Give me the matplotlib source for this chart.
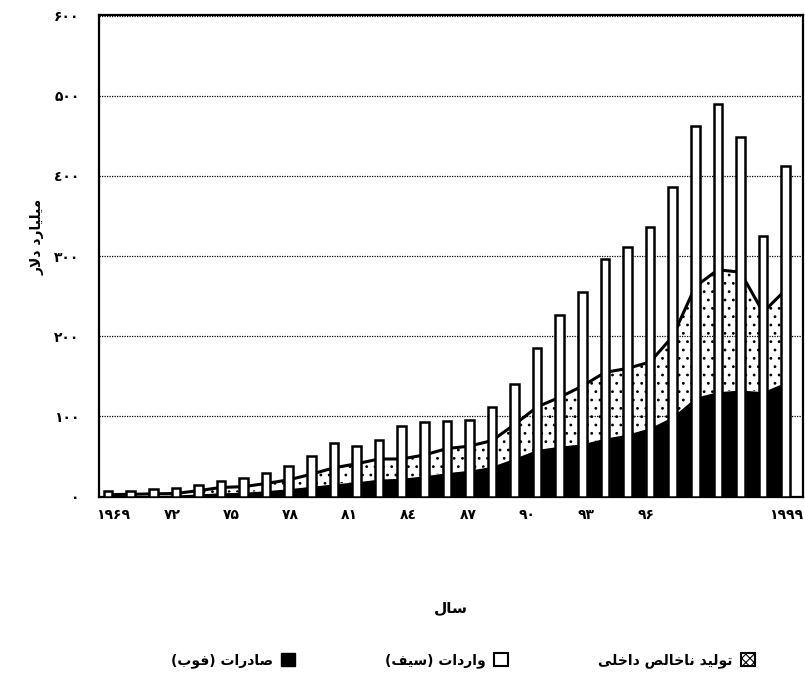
import numpy as np
import matplotlib.pyplot as plt
from matplotlib.patches import Patch

plt.rcParams['font.family'] = ['DejaVu Sans']
plt.rcParams['hatch.linewidth'] = 0.8

# data (billion dollars)
years = np.arange(1969, 2000)
gdp = [7.5, 7.5, 10, 11, 15, 19, 23, 29, 38, 51, 67, 63, 71, 88, 93, 94, 96,
       112, 140, 185, 226, 255, 297, 311, 336, 386, 462, 490, 449, 325, 412]
exports = [1, 1.2, 1.5, 2, 3.5, 5, 5.5, 7.5, 10, 13, 16, 18.5, 22, 23, 26, 30,
           33, 38, 48, 59, 63, 66, 73, 78, 86, 100, 124, 131, 133, 131, 143]
imports = [1.5, 1.8, 2, 2, 4, 6.5, 7, 9, 11, 15, 20, 22.5, 25, 24, 26, 30, 30,
           32, 42, 53, 61, 72, 82, 82, 82, 100, 138, 152, 147, 99, 115]

x_labels = ['۱۹۶۹', '۷۲', '۷۵', '۷۸', '۸۱', '۸٤', '۸۷', '۹۰', '۹۳', '۹۶', '۱۹۹۹']
y_ticks = [0, 100, 200, 300, 400, 500, 600]
y_labels = ['۰', '۱۰۰', '۲۰۰', '۳۰۰', '٤۰۰', '۵۰۰', '۶۰۰']

# simple persian shaping: contextual forms + visual order
forms = {
    '\u0627': ('\uFE8D', '\uFE8E'),
    '\u062F': ('\uFEA9', '\uFEAA'),
    '\u0631': ('\uFEAD', '\uFEAE'),
    '\u0648': ('\uFEED', '\uFEEE'),
    '\u0628': ('\uFE8F', '\uFE90', '\uFE91', '\uFE92'),
    '\u062A': ('\uFE95', '\uFE96', '\uFE97', '\uFE98'),
    '\u062E': ('\uFEA5', '\uFEA6', '\uFEA7', '\uFEA8'),
    '\u0633': ('\uFEB1', '\uFEB2', '\uFEB3', '\uFEB4'),
    '\u0635': ('\uFEB9', '\uFEBA', '\uFEBB', '\uFEBC'),
    '\u0641': ('\uFED1', '\uFED2', '\uFED3', '\uFED4'),
    '\u0644': ('\uFEDD', '\uFEDE', '\uFEDF', '\uFEE0'),
    '\u0645': ('\uFEE1', '\uFEE2', '\uFEE3', '\uFEE4'),
    '\u0646': ('\uFEE5', '\uFEE6', '\uFEE7', '\uFEE8'),
    '\u06CC': ('\uFBFC', '\uFBFD', '\uFBFE', '\uFBFF'),
}

def fa(text):
    out = []
    i = 0
    while i < len(text):
        c = text[i]
        if c not in forms:
            out.append(c)
            i += 1
            continue
        prev = text[i-1] if i > 0 else ''
        join_prev = prev in forms and len(forms[prev]) == 4
        if c == '\u0644' and i+1 < len(text) and text[i+1] == '\u0627':
            out.append('\uFEFC' if join_prev else '\uFEFB')
            i += 2
            continue
        nxt = text[i+1] if i+1 < len(text) else ''
        join_next = len(forms[c]) == 4 and nxt in forms
        f = forms[c]
        if join_prev and join_next:
            out.append(f[3])
        elif join_prev:
            out.append(f[1])
        elif join_next:
            out.append(f[2])
        else:
            out.append(f[0])
        i += 1
    mirror = {'(': ')', ')': '('}
    return ''.join(mirror.get(ch, ch) for ch in reversed(out))

exports = np.array(exports)
total = exports + np.array(imports)

fig = plt.figure(figsize=(8.05, 6.73), dpi=100)
ax = fig.add_axes([0.123, 0.262, 0.874, 0.716])

ax.fill_between(years, 0, exports, facecolor='black', edgecolor='black', lw=0, zorder=1)
ax.fill_between(years, exports, total, facecolor='white', edgecolor='black',
                hatch='..', lw=0, zorder=1)
ax.plot(years, total, color='black', lw=2.2, zorder=1.2)
ax.bar(years, gdp, width=0.38, color='white', edgecolor='black', lw=1.8, zorder=3)

ax.set_xlim(1968.6, 1999.75)
ax.set_ylim(0, 601)
ax.set_axisbelow('line')
ax.yaxis.grid(True, color='black', ls=(0, (1, 1)), lw=0.9)

xpos = list(np.linspace(1969.2, 1992.8, 10)) + [1999]
ax.set_xticks(xpos)
ax.set_xticklabels(x_labels, fontsize=10, fontweight='bold')
ax.set_yticks(y_ticks)
ax.set_yticklabels(y_labels, fontsize=10, fontweight='bold')
ax.tick_params(length=0)
ax.tick_params(axis='x', pad=8)
ax.tick_params(axis='y', pad=14)
for s in ax.spines.values():
    s.set_linewidth(1.6)

ax.set_xlabel(fa('سال'), fontsize=11, fontweight='bold', labelpad=56)
fig.text(0.047, 0.648, fa('میلیارد دلار'), rotation=90, ha='center', va='center',
         fontsize=10, fontweight='bold')

handles = [Patch(facecolor='black', edgecolor='black', label=fa('صادرات (فوب)')),
           Patch(facecolor='white', edgecolor='black', lw=1.5, label=fa('واردات (سیف)')),
           Patch(facecolor='white', edgecolor='black', hatch='xxxx', lw=1.5,
                 label=fa('تولید ناخالص داخلی'))]
leg = fig.legend(handles=handles, loc='center', bbox_to_anchor=(0.575, 0.018), ncol=3,
                 frameon=False, markerfirst=False, handlelength=1.0, handleheight=1.0,
                 columnspacing=6.5, handletextpad=0.6,
                 prop={'weight': 'bold', 'size': 10})

plt.savefig('out.png', dpi=100)
